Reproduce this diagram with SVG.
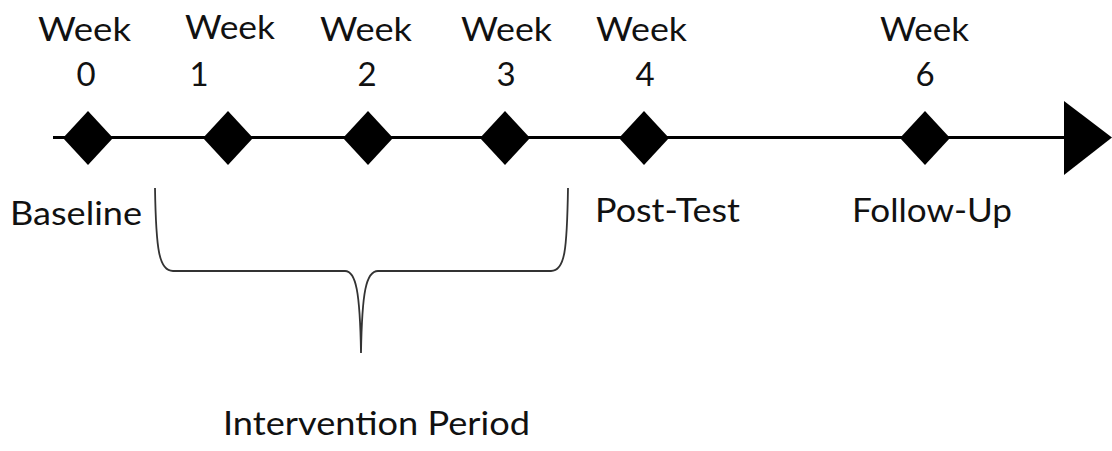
<svg xmlns="http://www.w3.org/2000/svg" width="1112" height="451" viewBox="0 0 1112 451">
<defs>
<style>
text{font-family:Lato,"Open Sans","Noto Sans",sans-serif;font-size:33px;fill:#111}
.mid{text-anchor:middle}
.dia{fill:#000}
.axis{stroke:#000;stroke-width:3;fill:none}
.brace{stroke:#333;stroke-width:1.8;fill:none}
</style>
<polygon id="d" class="dia" points="0,-27 25,0 0,27 -25,0"/>
</defs>
<rect width="1112" height="451" fill="#fff"/>
<g id="connectors">
<line class="axis" x1="53" y1="137.5" x2="1066" y2="137.5"/>
<polygon id="arrowhead" points="1064,101 1112,137.5 1064,175" fill="#000"/>
<path id="brace" class="brace" d="M155,188 C156,250 159,271 173,271 L345,271 C356,271 360,292 361,353 C362,292 366,271 378,271 L551,271 C565,271 567,250 568,188"/>
</g>
<g id="week0"><use href="#d" x="88" y="138"/><text x="38" y="41" textLength="93" lengthAdjust="spacingAndGlyphs">Week</text><text class="mid" x="86" y="86">0</text></g>
<g id="week1"><use href="#d" x="228" y="138"/><text x="185" y="39" textLength="90" lengthAdjust="spacingAndGlyphs">Week</text><text class="mid" x="199" y="86">1</text></g>
<g id="week2"><use href="#d" x="368" y="138"/><text x="320" y="41" textLength="92" lengthAdjust="spacingAndGlyphs">Week</text><text class="mid" x="367" y="86">2</text></g>
<g id="week3"><use href="#d" x="505" y="138"/><text x="461" y="41" textLength="91" lengthAdjust="spacingAndGlyphs">Week</text><text class="mid" x="506" y="86">3</text></g>
<g id="week4"><use href="#d" x="644" y="138"/><text x="596" y="41" textLength="91" lengthAdjust="spacingAndGlyphs">Week</text><text class="mid" x="645" y="86">4</text></g>
<g id="week6"><use href="#d" x="925" y="138"/><text x="880" y="41" textLength="89" lengthAdjust="spacingAndGlyphs">Week</text><text class="mid" x="925" y="86">6</text></g>
<g id="baseline"><text x="10" y="225" textLength="132" lengthAdjust="spacingAndGlyphs">Baseline</text></g>
<g id="posttest"><text x="595" y="222" textLength="145" lengthAdjust="spacingAndGlyphs">Post-Test</text></g>
<g id="followup"><text x="852" y="222" textLength="160" lengthAdjust="spacingAndGlyphs">Follow-Up</text></g>
<g id="intervention"><text x="223" y="435" textLength="307" lengthAdjust="spacingAndGlyphs">Intervention Period</text></g>
</svg>
